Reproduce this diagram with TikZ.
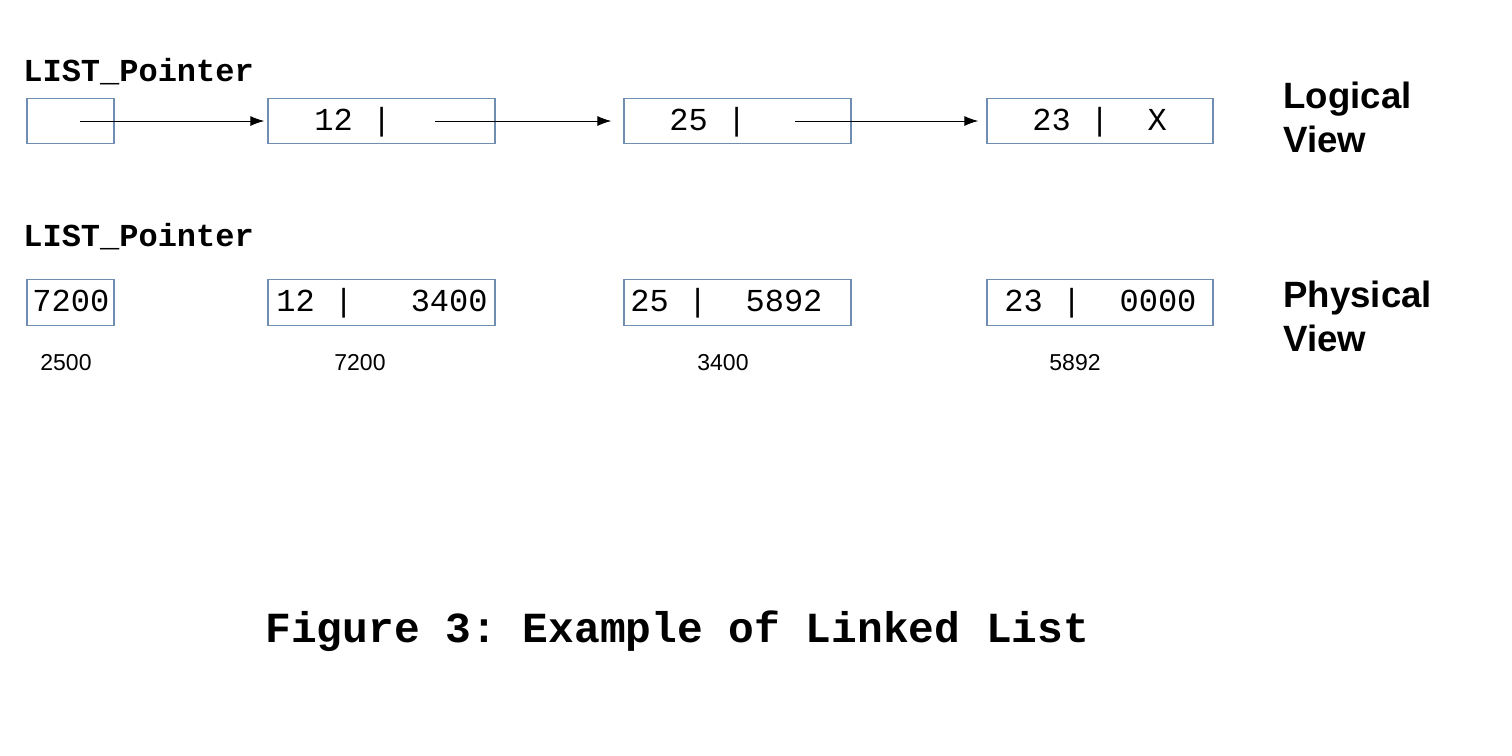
\documentclass[tikz,border=0pt]{standalone}
\usepackage{fontspec}
\setmainfont{Liberation Sans}
\setmonofont{Liberation Mono}
\usetikzlibrary{arrows.meta}
\definecolor{cellblue}{RGB}{112,142,178}
\tikzset{
    cell/.style = {draw = cellblue, line width = 0.65pt, minimum height = 22.75pt, inner sep = 0pt},
    val/.style = {anchor = base west, inner sep = 0pt, font = \fontsize{16}{18}\ttfamily},
    addr/.style = {anchor = base, inner sep = 0pt, font = \fontsize{11.5}{13}\selectfont},
    title/.style = {anchor = base west, inner sep = 0pt, font = \fontsize{16}{18}\ttfamily\bfseries},
    view/.style = {anchor = north west, inner sep = 0pt, align = left, font = \fontsize{18.3}{22}\selectfont\bfseries},
    link/.style = {line width = 0.5pt, -{Latex[length = 7pt, width = 5pt]}}
}
\begin{document}
\begin{tikzpicture}[x = 0.5pt, y = -0.5pt]
    \useasboundingbox (0,0) rectangle (1512,756);
    \def \ytop {121}   % строка логического вида
    \def \ybot {302.5} % строка физического вида
    \foreach \n/\x/\w in {1/70.5/87, 2/381.5/227, 3/737.5/227, 4/1100/226} {
        \node [cell, minimum width = \w*0.5pt] (l\n) at (\x,\ytop) {};
        \node [cell, minimum width = \w*0.5pt] (p\n) at (\x,\ybot) {};
    }
    % Подписи указателя
    \node [title] (lhead) at (23,81.7) {LIST\_Pointer};
    \node [title] (phead) at (23,246.7) {LIST\_Pointer};
    % Логический вид
    \node [val] (lv2) at (314,130) {12~|};
    \node [val] (lv3) at (669,130) {25~|};
    \node [val] (lv4) at (1032,130) {23~|~~X};
    \coordinate (s1) at (80,\ytop);
    \coordinate (s2) at (435,\ytop);
    \coordinate (s3) at (795,\ytop);
    \draw [link, shorten > = 1.5pt] (s1) -- (l2.west);
    \draw [link, shorten > = 6pt] (s2) -- (l3.west);
    \draw [link, shorten > = 4pt] (s3) -- (l4.west);
    % Физический вид
    \node [val] (pv1) at (32,311.5) {7200};
    \node [val] (pv2) at (276,311.5) {12~|~~~3400};
    \node [val] (pv3) at (630,311.5) {25~|~~5892};
    \node [val] (pv4) at (1004,311.5) {23~|~~0000};
    % Адреса
    \node [addr] (a1) at (66,370) {2500};
    \node [addr] (a2) at (360,370) {7200};
    \node [addr] (a3) at (723,370) {3400};
    \node [addr] (a4) at (1075,370) {5892};
    \node [view] (logical) at (1283,82) {Logical\\View};
    \node [view] (physical) at (1283,280.5) {Physical\\View};
    \node [title, font = \fontsize{21.45}{24}\ttfamily\bfseries] (caption) at (265,642) {Figure 3: Example of Linked List};
\end{tikzpicture}
\end{document}
